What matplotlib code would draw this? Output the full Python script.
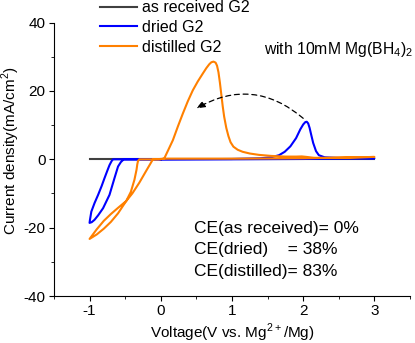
import matplotlib
matplotlib.use("Agg")
import matplotlib.pyplot as plt
from matplotlib.ticker import MultipleLocator

plt.rcParams['font.family'] = ['Liberation Sans', 'DejaVu Sans']
plt.rcParams['mathtext.fontset'] = 'custom'
plt.rcParams['mathtext.rm'] = 'Liberation Sans'
plt.rcParams['axes.unicode_minus'] = False

# as received G2: flat line
recv_v = [-1.0, 3.0]
recv_j = [0.0, 0.0]

# dried G2 (blue) CV loop
dried_v = [0.0, -0.52, -0.56, -0.60, -0.65, -0.72, -0.81, -0.88, -0.93, -0.97, -1.0,
           -0.995, -0.975, -0.93, -0.88, -0.83, -0.79, -0.75, -0.72, -0.69, -0.67,
           0.0, 1.0, 1.4, 1.55, 1.66, 1.74, 1.82, 1.90, 1.96, 2.0, 2.03, 2.05, 2.07,
           2.09, 2.11, 2.14, 2.18, 2.22, 2.3, 2.5, 3.0, 2.0, 1.0, 0.0]
dried_j = [0.0, 0.0, -0.8, -2.1, -5.5, -10.4, -14.3, -16.4, -17.7, -18.4, -18.6,
           -17.8, -15.3, -12.8, -10.4, -7.8, -5.5, -3.3, -1.7, -0.5, 0.0,
           0.0, 0.1, 0.3, 0.6, 1.2, 2.2, 3.8, 6.2, 8.8, 10.2, 10.9, 11.0, 10.5,
           9.2, 7.4, 4.8, 2.4, 1.2, 0.6, 0.4, 0.3, 0.1, 0.0, 0.0]

# distilled G2 (orange) CV loop
dist_v = [0.0, -0.11, -0.2, -0.3, -0.4, -0.485, -0.6, -0.7, -0.8, -0.9, -1.0,
          -0.9, -0.8, -0.7, -0.6, -0.485, -0.42, -0.37, -0.34, -0.33, -0.32, -0.30,
          0.0, 0.05, 0.10, 0.17, 0.24, 0.31, 0.38, 0.45, 0.52, 0.59, 0.64, 0.68,
          0.71, 0.74, 0.77, 0.79, 0.81, 0.83, 0.85, 0.87, 0.89, 0.92, 0.95, 0.98,
          1.02, 1.08, 1.15, 1.25, 1.38, 1.55, 1.75, 1.9, 1.98, 2.05, 2.15, 2.3,
          2.6, 3.0, 2.0, 1.0, 0.1, 0.0]
dist_j = [0.1, 0.0, -3.2, -6.8, -10.0, -12.2, -14.2, -16.0, -18.0, -20.5, -23.3,
          -22.0, -20.3, -18.3, -15.8, -12.2, -9.5, -6.0, -3.0, -1.5, -0.5, 0.0,
          0.0, 0.3, 2.5, 5.6, 9.6, 13.4, 17.0, 20.2, 22.8, 25.1, 26.7, 27.8,
          28.4, 28.6, 28.3, 27.4, 25.5, 22.5, 19.0, 15.5, 12.5, 9.2, 6.8, 5.0,
          3.7, 2.8, 2.2, 1.7, 1.3, 1.0, 0.8, 0.8, 0.85, 0.7, 0.45, 0.4,
          0.5, 0.7, 0.3, 0.2, 0.2, 0.1]

ce_lines = ["CE(as received)= 0%", "CE(dried)    = 38%", "CE(distilled)= 83%"]

fig = plt.figure(figsize=(4.15, 3.43), dpi=100)
ax = fig.add_axes([0.130, 0.137, 0.858, 0.797])

ax.plot(recv_v, recv_j, color='#404040', lw=1.5, label='as received G2')
ax.plot(dried_v, dried_j, color='#0000ff', lw=1.5, label='dried G2')
ax.plot(dist_v, dist_j, color='#ff8000', lw=1.5, label='distilled G2')

ax.annotate('', xy=(0.5, 14.9), xytext=(2.0, 12.0),
            arrowprops=dict(arrowstyle='-|>,head_length=0.5,head_width=0.2',
                            linestyle=(0, (4, 3)), color='black', lw=0.9,
                            connectionstyle='arc3,rad=0.35', shrinkA=0, shrinkB=0))

ax.text(1.452, 32.2, r'with 10mM Mg(BH$_4$)$_2$', fontsize=11.3, va='center', ha='left')
for i, s in enumerate(ce_lines):
    ax.text(0.47, -20.3 - 6.2 * i, s, fontsize=12.5, va='center', ha='left')

ax.set_xlim(-1.5, 3.5)
ax.set_ylim(-40, 40)
ax.xaxis.set_major_locator(MultipleLocator(1))
ax.xaxis.set_minor_locator(MultipleLocator(0.5))
ax.yaxis.set_major_locator(MultipleLocator(20))
ax.yaxis.set_minor_locator(MultipleLocator(10))
ax.spines['top'].set_visible(False)
ax.spines['right'].set_visible(False)
ax.tick_params(which='major', length=3.5, labelsize=11, pad=2.5)
ax.tick_params(which='minor', length=2)
ax.set_xlabel(r'Voltage(V vs. Mg$^{2+}$/Mg)', fontsize=11, labelpad=2.5)
ax.set_ylabel(r'Current density(mA/cm$^2$)', fontsize=11)
ax.yaxis.set_label_coords(-0.09, 0.53)

fig.legend(loc='upper left', bbox_to_anchor=(0.215, 1.032), frameon=False,
           fontsize=11.5, handlelength=2.3, handletextpad=0.3, labelspacing=0.3,
           borderpad=0.2)

fig.savefig('out.png', dpi=100)
